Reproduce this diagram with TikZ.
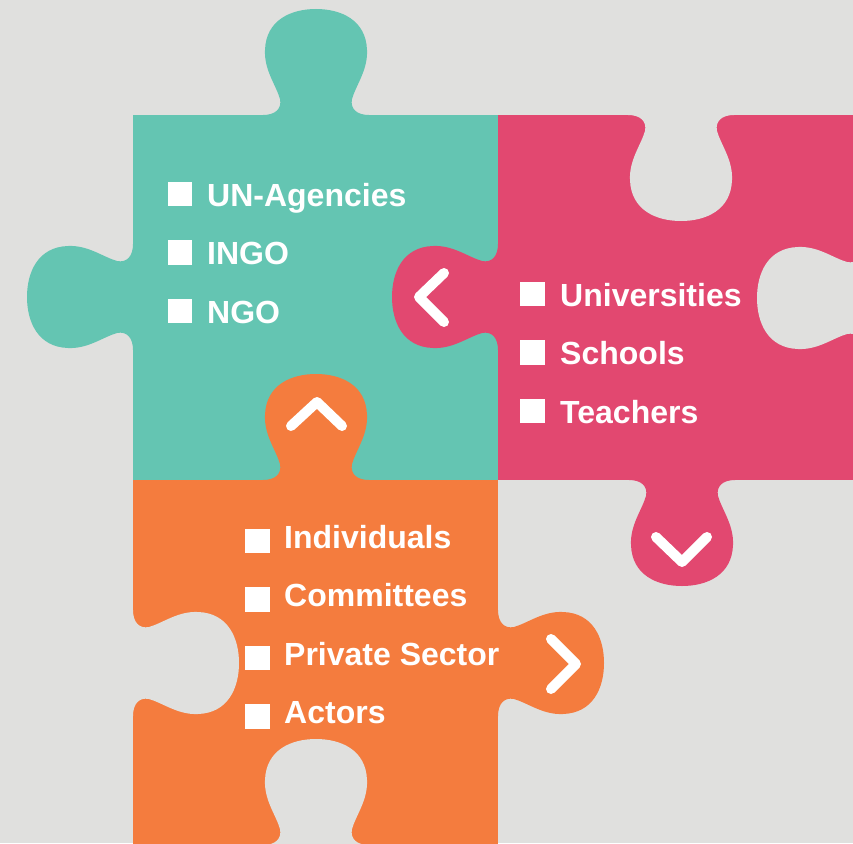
\documentclass[tikz,border=0pt]{standalone}
\usepackage{fontspec}
\setmainfont{Liberation Sans}

\definecolor{bgc}{RGB}{224,224,222}
\definecolor{tealc}{RGB}{100,197,178}
\definecolor{pinkc}{RGB}{226,72,112}
\definecolor{orangec}{RGB}{244,124,62}

\tikzset{
  knob/.pic={
    \fill[#1] (-56,5) -- (-53,0) .. controls (-41,0) and (-34,-6) .. (-36,-16)
      .. controls (-40,-30) and (-52,-45) .. (-51,-65)
      .. controls (-50,-95) and (-25,-106) .. (0,-106)
      .. controls (25,-106) and (50,-95) .. (51,-65)
      .. controls (52,-45) and (40,-30) .. (36,-16)
      .. controls (34,-6) and (41,0) .. (53,0) -- (56,5) -- cycle;
  },
  box/.style={fill=white, minimum size=24.5pt, inner sep=0pt},
  item/.style={text=white, font=\fontsize{32}{38}\selectfont\bfseries,
    inner sep=0pt, anchor=base west},
  chev/.style={white, line width=10pt, line cap=round, line join=round},
}

\begin{document}
\begin{tikzpicture}[x=1pt, y=-1pt]
    \fill[bgc] (0,0) rectangle (853,843);
    \useasboundingbox (0,0) rectangle (853,843);

    % teal piece
    \fill[tealc] (133,115) rectangle (498,480);
    \pic at (316,115) {knob=tealc};
    \pic[rotate=90] at (133,297) {knob=tealc};

    % pink piece
    \fill[pinkc] (498,115) rectangle (863,480);
    \pic[rotate=90] at (498,297) {knob=pinkc};
    \pic[rotate=180] at (682,480) {knob=pinkc};
    \pic[rotate=180] at (681,115) {knob=bgc};
    \pic[rotate=90] at (863,298) {knob=bgc};

    % orange piece
    \fill[orangec] (133,480) rectangle (498,845);
    \pic at (316,480) {knob=orangec};
    \pic[rotate=-90] at (498,663) {knob=orangec};
    \pic[rotate=-90] at (133,663) {knob=bgc};
    \pic at (316,845) {knob=bgc};

    % chevrons
    \draw[chev] (444,273) -- (419,297) -- (444,322);
    \draw[chev] (291,426) -- (317,402) -- (342,426);
    \draw[chev] (656,537) -- (682,562) -- (707,537);
    \draw[chev] (551,639) -- (576,664) -- (551,689);

    % lists
    \foreach \t [count=\i] in {UN-Agencies,INGO,NGO} {
        \node[box] (tbox\i) at (180,{194+58.5*(\i-1)}) {};
        \node[item] (titem\i) at (207,{206+58.5*(\i-1)}) {\t};
    }
    \foreach \t [count=\i] in {Universities,Schools,Teachers} {
        \node[box] (pbox\i) at (532.5,{294+58.5*(\i-1)}) {};
        \node[item] (pitem\i) at (560,{306+58.5*(\i-1)}) {\t};
    }
    \foreach \t [count=\i] in {Individuals,Committees,Private Sector,Actors} {
        \node[box] (obox\i) at (257.5,{541+58.5*(\i-1)}) {};
        \node[item] (oitem\i) at (284,{548+58.5*(\i-1)}) {\t};
    }
\end{tikzpicture}
\end{document}
